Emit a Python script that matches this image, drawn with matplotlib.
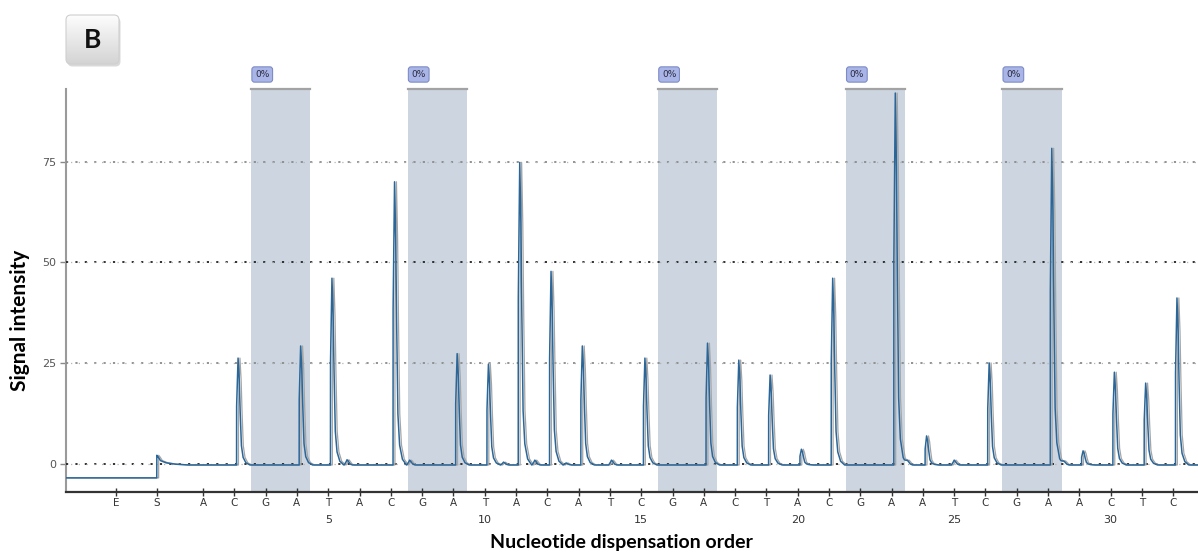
import numpy as np
import matplotlib.pyplot as plt
from matplotlib.patches import FancyBboxPatch
from matplotlib.colors import LinearSegmentedColormap

W, H = 1198, 552

# dispensation order (E = enzyme, S = substrate)
disp = list("ACGATACGATACATCGACTACGAATCGAACTC")
disp_num = [5, 10, 15, 20, 25, 30]
pre_labels = ["E", "S"]
pre_pos = [-1.78, -0.48]

# main peaks: dispensation number and signal intensity
peak_pos = [2, 4, 5, 7, 9, 10, 11, 12, 13, 15, 17, 18, 19, 20, 21, 23, 24, 26, 28, 29, 30, 31, 32]
peak_h = [26.5, 29.5, 46.3, 70.2, 27.6, 25.0, 75.0, 48.0, 29.5, 26.5, 30.2, 26.0, 22.3, 3.9,
          46.3, 92.2, 7.2, 25.3, 78.5, 3.5, 23.0, 20.3, 41.4]

# small bumps on the baseline
bump_pos = [5.6, 7.6, 10.6, 11.6, 12.6, 14.05, 23.5, 25.0, 28.5]
bump_h = [1.3, 1.2, 0.7, 1.2, 0.5, 1.2, 1.2, 1.2, 1.0]

# baseline before / after substrate
pre_level = -3.4
base_level = -0.2
s_jump = 2.4

# shaded G/A windows with percentage
shade_g = [3, 8, 16, 22, 27]
shade_a = [4, 9, 17, 23, 28]
shade_txt = ["0%", "0%", "0%", "0%", "0%"]

# peak shape (offset in dispensations, relative height)
prof_dx = np.array([0, 0.07, 0.072, 0.118, 0.155, 0.185, 0.225, 0.28, 0.37, 0.5])
prof_rel = np.array([0, 0, 0.55, 1.0, 0.8, 0.5, 0.18, 0.07, 0.02, 0])
bump_dx = np.array([-0.09, -0.03, 0, 0.04, 0.1, 0.17])
bump_rel = np.array([0, 0.6, 1.0, 0.7, 0.2, 0])
s_dx = np.array([0, 0.002, 0.04, 0.12, 0.3, 0.6, 1.0])
s_rel = np.array([0, 1.0, 0.85, 0.45, 0.22, 0.08, 0])

xmin, xmax = -3.38, 32.79
ymin, ymax = -6.9, 93.0

# build trace
s_pos = pre_pos[1]
xs = [np.array([xmin, xmax]), s_pos + s_dx]
for p in peak_pos:
    xs.append(p + prof_dx)
for p in bump_pos:
    xs.append(p + bump_dx)
x = np.unique(np.concatenate(xs))
y = np.where(x <= s_pos, pre_level, base_level)
y = y + s_jump * np.interp(x - s_pos, s_dx, s_rel, left=0, right=0)
for p, h in zip(peak_pos, peak_h):
    y = y + h * np.interp(x - p, prof_dx, prof_rel, left=0, right=0)
for p, h in zip(bump_pos, bump_h):
    y = y + h * np.interp(x - p, bump_dx, bump_rel, left=0, right=0)

fig = plt.figure(figsize=(W / 100, H / 100), dpi=100)
ax = fig.add_axes([66 / W, 1 - 492 / H, 1 - 66 / W, (492 - 89) / H])
ax.set_xlim(xmin, xmax)
ax.set_ylim(ymin, ymax)

for g, a, t in zip(shade_g, shade_a, shade_txt):
    x0, x1 = g - 0.46, a + 0.43
    ax.axvspan(x0, x1, color='#ccd5e0', zorder=1, lw=0)
    ax.plot([x0, x1], [ymax, ymax], color='#a3a3a3', lw=1.6, clip_on=False, zorder=2)
    ax.text(x0 + 0.35, 1.036, t, transform=ax.get_xaxis_transform(), ha='center', va='center',
            fontsize=6.5, color='#2a2a40',
            bbox=dict(boxstyle='round,pad=0.35,rounding_size=0.3', fc='#a9b5e6', ec='#7e8cc6', lw=0.8))

# dotted reference lines
for yy, c in zip([0, 25, 50, 75], ['#222222', '#8a8a8a', '#222222', '#8a8a8a']):
    ax.axhline(yy, color=c, lw=1.3, ls=(0, (1.2, 4.0)), zorder=3)
    ax.axhline(yy, color='#b5b5b5', lw=0.9, ls=(2.6, (1.0, 5.2)), zorder=3)

# trace
ax.plot(x + 0.06, y, color='#a5a5a5', lw=0.9, zorder=4)
ax.plot(x, y, color='#2b6699', lw=1.1, zorder=5)

ax.spines['top'].set_visible(False)
ax.spines['right'].set_visible(False)
ax.spines['left'].set_color('#9a9a9a')
ax.spines['left'].set_linewidth(1.5)
ax.spines['bottom'].set_color('#333333')
ax.spines['bottom'].set_linewidth(1.6)

ax.set_yticks([0, 25, 50, 75])
ax.tick_params(axis='y', direction='out', length=4, width=1, color='#888888',
               labelsize=8, labelcolor='#555555', pad=3)
ax.set_xticks(pre_pos + list(range(1, len(disp) + 1)))
ax.set_xticklabels(pre_labels + disp)
ax.tick_params(axis='x', direction='inout', length=6, width=1, color='#333333',
               labelsize=7.5, labelcolor='#333333', pad=1)
for n in disp_num:
    ax.annotate(str(n), xy=(n, 0), xycoords=('data', 'axes fraction'), xytext=(0, -20),
                textcoords='offset points', ha='center', va='center', fontsize=8, color='#333333')

fig.text(20 / W, 1 - 320 / H, 'Signal intensity', rotation=90, ha='center', va='center',
         fontsize=15, fontweight='bold', family='Lato')
fig.text(621 / W, 1 / H, 'Nucleotide dispensation order', ha='center', va='bottom',
         fontsize=14, fontweight='bold', family='Lato')

# panel letter box
bax = fig.add_axes([62 / W, 1 - 68 / H, 61 / W, 57 / H])
bax.set_xlim(0, 61)
bax.set_ylim(0, 57)
bax.axis('off')
shadow = FancyBboxPatch((5.5, 1.5), 53, 49, boxstyle='round,pad=0,rounding_size=5',
                        fc='#000000', alpha=0.15, lw=0, zorder=1)
bax.add_patch(shadow)
box = FancyBboxPatch((4, 4), 53, 49, boxstyle='round,pad=0,rounding_size=5',
                     fc='none', ec='#cfcfcf', lw=0.8, zorder=3)
bax.add_patch(box)
grad_cmap = LinearSegmentedColormap.from_list('g', ['#d4d4d4', '#fdfdfd'])
im = bax.imshow(np.linspace(0, 1, 64)[:, None], cmap=grad_cmap, origin='lower',
                extent=[4, 57, 4, 53], aspect='auto', zorder=2)
im.set_clip_path(box)
bax.text(30.5, 28.5, 'B', ha='center', va='center', fontsize=19, fontweight='bold',
         family='Lato', color='#111111', zorder=4)

fig.savefig('out.png', dpi=100)
